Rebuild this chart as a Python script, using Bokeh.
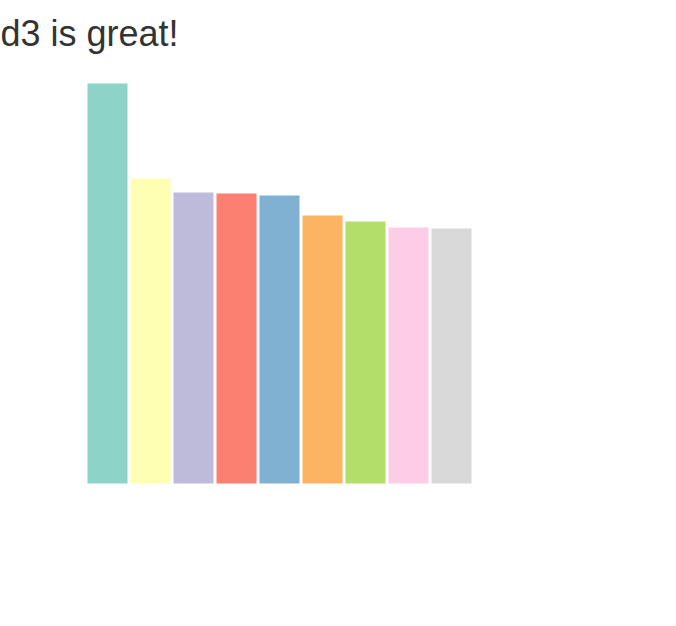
from bokeh.plotting import figure
from bokeh.models import Label, ColumnDataSource, Range1d
from bokeh.embed import file_html
from bokeh.resources import INLINE

values = [400, 305, 291, 290, 288, 268, 262, 256, 255]
colors = ["#8dd3c7", "#ffffb3", "#bebada", "#fb8072", "#80b1d3",
          "#fdb462", "#b3de69", "#fccde5", "#d9d9d9"]
idx = list(range(len(values)))

W, H = 676, 626
p = figure(width=W, height=H, output_backend="svg", toolbar_location=None,
           x_range=Range1d(-107 / 43, (W - 107) / 43),
           y_range=Range1d(-(H - 483), 483),
           min_border=0, outline_line_color=None)
p.axis.visible = False
p.grid.visible = False
p.background_fill_color = "white"
p.border_fill_color = "white"

src = ColumnDataSource(dict(x=idx, top=values, color=colors))
p.vbar(x="x", top="top", bottom=0, width=40 / 43, color="color", line_color=None, source=src)

p.add_layout(Label(x=0, y=H - 33, x_units="screen", y_units="screen",
                   text="d3 is great!", text_font="Liberation Sans",
                   text_font_size="36px", text_color="#333333",
                   text_baseline="alphabetic", text_align="left"))

open("out.html", "w").write(file_html(p, INLINE))
